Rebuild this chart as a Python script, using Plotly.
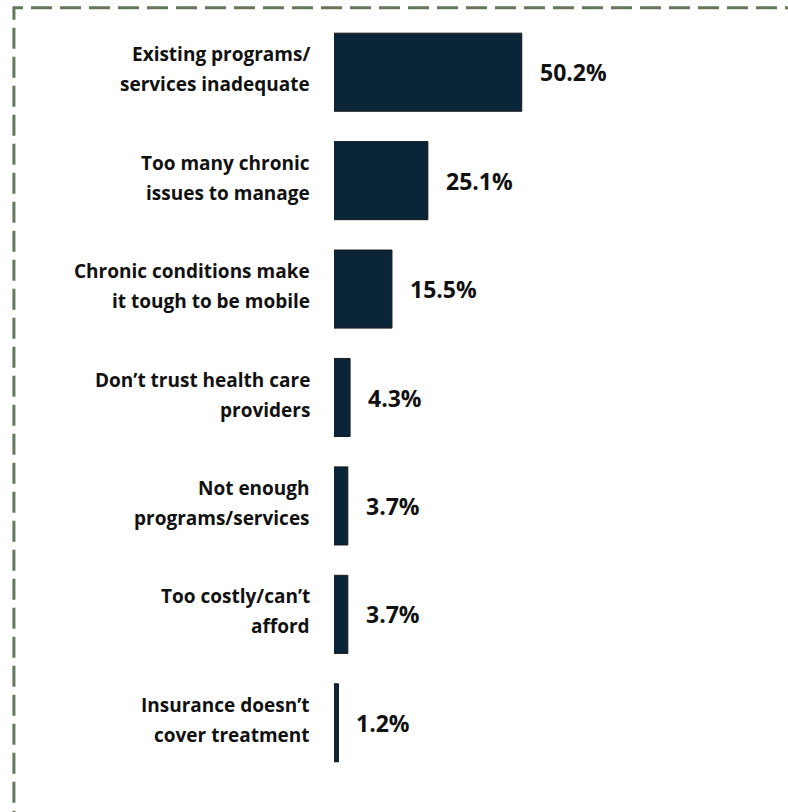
import plotly.graph_objects as go

categories = [
    "Existing programs/<br>services inadequate",
    "Too many chronic<br>issues to manage",
    "Chronic conditions make<br>it tough to be mobile",
    "Don’t trust health care<br>providers",
    "Not enough<br>programs/services",
    "Too costly/can’t<br>afford",
    "Insurance doesn’t<br>cover treatment",
]
values = [50.2, 25.1, 15.5, 4.3, 3.7, 3.7, 1.2]
value_labels = ["50.2%", "25.1%", "15.5%", "4.3%", "3.7%", "3.7%", "1.2%"]

W, H = 788, 812
L, T = 334, 17.75
PW, PH = 374.5, 759.5
R = W - L - PW
B = H - T - PH

FONT = "Open Sans"
BAR = "#0a2438"
BORDER = "#66765a"

fig = go.Figure()
fig.add_trace(go.Bar(
    y=categories, x=values, orientation="h",
    marker=dict(color=BAR, line=dict(color="#1a1a1a", width=1)),
    hoverinfo="skip",
))

ann = []
for cat, v, lab in zip(categories, values, value_labels):
    lines = cat.split("<br>")
    n = len(lines)
    for i, ln in enumerate(lines):
        shift = (n - 1) / 2 * 30 - i * 30
        ann.append(dict(x=0, y=cat, xref="x", yref="y", text=ln, showarrow=False,
                        xanchor="right", yanchor="middle", xshift=-22, yshift=shift + 3,
                        font=dict(family=FONT, size=19, color="#111111", weight="bold")))
    ann.append(dict(x=v, y=cat, xref="x", yref="y", text=lab, showarrow=False,
                    xanchor="left", yanchor="middle", xshift=16, yshift=0,
                    font=dict(family=FONT, size=23, color="#111111", weight="bold")))

# dashed frame (partially visible), in paper coords
x_left = (13.5 - L) / PW
y_top = 1 + (T - 7.5) / PH
x_out = (W + 20 - L) / PW
y_out = -(B + 20) / PH
fig.add_shape(type="path", xref="paper", yref="paper",
              path=f"M {x_left} {y_out} L {x_left} {y_top} L {x_out} {y_top}",
              line=dict(color=BORDER, width=3, dash="21px,8px"))

fig.update_layout(
    width=W, height=H,
    margin=dict(l=L, r=R, t=T, b=B, pad=0),
    paper_bgcolor="white", plot_bgcolor="white",
    bargap=0.28, showlegend=False,
    xaxis=dict(range=[0, 100], visible=False, fixedrange=True),
    yaxis=dict(range=[6.5, -0.5], visible=False, fixedrange=True),
    annotations=ann,
)
fig.write_html("out.html", config={"displayModeBar": False},
               post_script="document.body.style.margin='0';")
